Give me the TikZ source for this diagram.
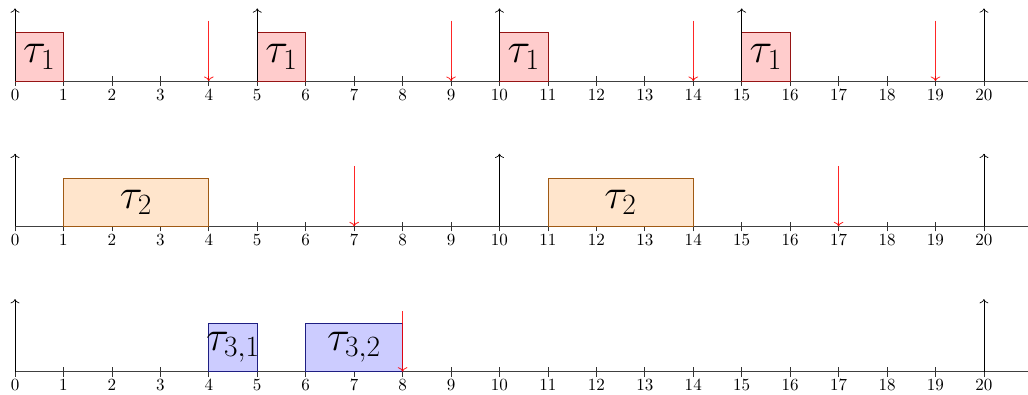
\documentclass[tikz,border=0pt]{standalone}
\usepackage{amsmath,amssymb}
\usepackage{tikz}
\usetikzlibrary{arrows.meta,calc}
\definecolor{jobred}{RGB}{150,20,20}
\definecolor{joborange}{RGB}{160,90,20}
\definecolor{jobblue}{RGB}{30,30,130}

\begin{document}
\begin{tikzpicture}[x=1cm,y=1cm,
      axis/.style={draw=black!75,semithick},
      tick/.style={draw=black!80},
      rel/.style={->,black},
      ddl/.style={->,red,line width=0.5pt,draw opacity=0.85},
      jobA/.style={draw=jobred,fill=red!20},
      jobB/.style={draw=joborange,fill=orange!20},
      jobC/.style={draw=jobblue,fill=blue!20},
      tsk/.style={font=\fontsize{23}{27}\selectfont,inner sep=0pt}]
    \useasboundingbox (-0.31,-0.46) rectangle (20.91,7.674);
    % time axes with ticks
    \foreach \r in {0,3,6} {
      \draw[axis] (0,\r) -- (21.2,\r);
      \foreach \t in {0,...,20} {
        \draw[tick] (\t,\r-0.1) -- (\t,\r+0.1);
        \node[anchor=north,inner sep=0pt] at (\t,\r-0.15) {\t};
      }
    }
    % task 1
    \foreach \s in {0,5,10,15} {
      \draw[jobA] (\s,6) rectangle (\s+1,7);
      \node[tsk] (t1-\s) at (\s+0.5,6.5) {$\tau_1$};
      \draw[rel] (\s,6) -- (\s,7.5);
    }
    \draw[rel] (20,6) -- (20,7.5);
    \foreach \d in {4,9,14,19}
      \draw[ddl] (\d,7.25) -- (\d,6);
    % task 2
    \foreach \s in {1,11} {
      \draw[jobB] (\s,3) rectangle (\s+3,4);
      \node[tsk] (t2-\s) at (\s+1.5,3.5) {$\tau_2$};
    }
    \foreach \s in {0,10,20}
      \draw[rel] (\s,3) -- (\s,4.5);
    \foreach \d in {7,17}
      \draw[ddl] (\d,4.25) -- (\d,3);
    % task 3
    \draw[jobC] (4,0) rectangle (5,1);
    \node[tsk] (t31) at (4.5,0.5) {$\tau_{3,1}$};
    \draw[jobC] (6,0) rectangle (8,1);
    \node[tsk] (t32) at (7,0.5) {$\tau_{3,2}$};
    \foreach \s in {0,20}
      \draw[rel] (\s,0) -- (\s,1.5);
    \draw[ddl] (8,1.25) -- (8,0);
  \end{tikzpicture}
\end{document}
